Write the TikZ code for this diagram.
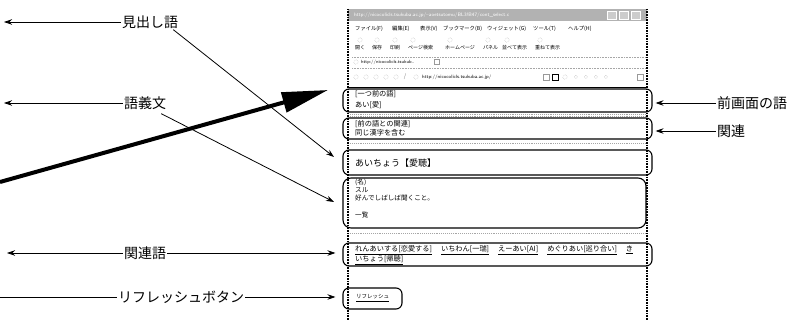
\documentclass[tikz,border=0pt]{standalone}
\usepackage{fontspec}
\setmainfont{Noto Sans CJK JP}
\usetikzlibrary{arrows.meta,calc}

\tikzset{
  lbl/.style={font=\fontsize{14}{16}\selectfont, inner sep=1pt},
  arr/.style={-{Stealth[length=8pt,width=5.5pt]}, line width=0.8pt},
  box/.style={draw, line width=1.1pt, rounded corners=6pt, inner sep=0pt},
  txt/.style={anchor=west, inner sep=0pt, font=\fontsize{7.2}{8}\selectfont},
  deftxt/.style={anchor=west, inner sep=0pt, font=\fontsize{6.6}{7}\selectfont},
  menu/.style={anchor=west, inner sep=0pt, font=\fontsize{5.3}{6}\selectfont},
  tool/.style={anchor=west, inner sep=0pt, font=\fontsize{5}{6}\selectfont},
  icon/.style={draw=gray!70, densely dotted, circle, minimum size=4.5pt, inner sep=0pt},
  sqicon/.style={draw=gray!80, minimum size=6pt, inner sep=0pt},
  frame/.style={line width=1.6pt, dash pattern=on 1pt off 0.6pt},
  sep/.style={gray!70, densely dotted, line width=0.9pt}
}

\begin{document}
\begin{tikzpicture}[x=1pt,y=-1pt]
\useasboundingbox (0,0) rectangle (790,320);

% ---------- browser window ----------
\fill[gray!60] (348,9) rectangle (647,21);
\node[anchor=west, inner sep=0pt, text=white, font=\fontsize{5}{6}\selectfont\sffamily] (title) at (354,15)
  {http://nicocolicls.tsukuba.ac.jp/\textasciitilde aoetsutomu/BL3!B47/cont\_select.c};
\foreach \bx/\bn in {612/wbA,624/wbB,636/wbC}
  \node[draw=white, fill=gray!40, minimum width=9pt, minimum height=8pt, inner sep=0pt] (\bn) at (\bx,15) {};
\draw[frame] (348,9) -- (348,320);
\draw[frame] (647,9) -- (647,320);

% menu bar
\node[menu] (m1) at (355,29) {ファイル(F)};
\node[menu] (m2) at (392,29) {編集(E)};
\node[menu] (m3) at (420,29) {表示(V)};
\node[menu] (m4) at (443,29) {ブックマーク(B)};
\node[menu] (m5) at (487,29) {ウィジェット(G)};
\node[menu] (m6) at (533,29) {ツール(T)};
\node[menu] (m7) at (568,29) {ヘルプ(H)};

% toolbar
\foreach \ix/\lab/\nm in {355/開く/tA, 372/保存/tB, 390/印刷/tC, 408/ページ検索/tD,
                          445/ホームページ/tE, 483/パネル/tF, 502/並べて表示/tG, 535/重ねて表示/tH}{
  \node[tool] (\nm) at (\ix,48) {\lab};
  \node[icon] (\nm i) at ($(\nm.west)+(5,-8)$) {};
}

% tab bar
\draw[sep, line width=0.6pt] (352,57) -- (645,57);
\draw[sep, line width=0.6pt] (352,68) -- (645,68);
\node[icon] (tabi) at (356,62) {};
\node[tool, font=\fontsize{4.6}{5}\selectfont\sffamily] (tab) at (361,62) {http://nicocolicls.tsukub..};
\node[sqicon, minimum size=5pt] (tabx) at (437,62) {};

% address bar
\foreach \ax/\an in {356/aA,366/aB,376/aC,386/aD,396/aE}
  \node[icon] (\an) at (\ax,77) {};
\node[inner sep=0pt, font=\fontsize{6}{6}\selectfont, text=gray] (aF) at (405,77) {/};
\node[icon] (aG) at (416,77) {};
\node[tool, font=\fontsize{4.8}{5}\selectfont\sffamily] (url) at (422,77) {http://nicocolicls.tsukuba.ac.jp/};
\node[sqicon] (aH) at (546,77) {};
\node[sqicon, draw=black] (aI) at (555,77) {};
\node[icon] (aJ) at (565,77) {};
\foreach \ax/\an in {576/aK,586/aL,596/aM,606/aN}
  \node[icon, minimum size=3.5pt] (\an) at (\ax,77) {};
\node[sqicon] (aO) at (640,77) {};
\draw[line width=0.9pt] (348,87) -- (647,87);

% ---------- page content ----------
\draw[sep] (350,114.5) -- (645,114.5);
\draw[sep] (350,116.5) -- (645,116.5);
\draw[sep] (350,143) -- (645,143);
\draw[sep] (350,233) -- (645,233);

\node[box, minimum width=309pt, minimum height=23pt] (b1) at (497.5,100.5) {};
\node[box, minimum width=309pt, minimum height=21pt] (b2) at (497.5,128.5) {};
\node[box, minimum width=309pt, minimum height=25pt] (b3) at (497.5,162.5) {};
\node[box, rounded corners=8pt, minimum width=303pt, minimum height=50pt] (b4) at (494.5,203) {};
\node[box, minimum width=309pt, minimum height=23pt] (b5) at (497.5,254.5) {};
\node[box, minimum width=59pt, minimum height=21pt] (b6) at (372.5,298.5) {};

\node[txt] (c1a) at (355,94) {[一つ前の語]};
\node[txt] (c1b) at (355,105) {あい[愛]};
\node[txt] (c2a) at (355,124) {[前の語との関連]};
\node[txt] (c2b) at (355,132.5) {同じ漢字を含む};
\node[txt, font=\fontsize{9}{10}\selectfont] (c3) at (355,163) {あいちょう【愛聴】};
\node[deftxt] (c4a) at (355,182) {(名)};
\node[deftxt] (c4b) at (355,190) {スル};
\node[deftxt] (c4c) at (355,198) {好んでしばしば聞くこと。};
\node[deftxt] (c4d) at (355,215) {一覧};
\node[txt] (c5a) at (355,250)
  {\underline{れんあいする[恋愛する]}\hspace{9pt}\underline{いちわん[一瑞]}\hspace{9pt}\underline{えーあい[AI]}\hspace{9pt}\underline{めぐりあい[巡り合い]}\hspace{9pt}\underline{き}};
\node[txt] (c5b) at (355,260) {\underline{いちょう[帰聴]}};
\node[txt, font=\fontsize{5.5}{6}\selectfont] (c6) at (356,298) {\underline{リフレッシュ}};

% ---------- callout labels ----------
\node[lbl] (midashi) at (150,22) {見出し語};
\node[lbl] (gogi) at (145,103) {語義文};
\node[lbl] (kanrengo) at (145,253) {関連語};
\node[lbl] (refresh) at (181,297) {リフレッシュボタン};
\node[lbl, anchor=west] (zengamen) at (716,103) {前画面の語};
\node[lbl, anchor=west] (kanren) at (716,131) {関連};

\coordinate (midL) at (4,22);
\coordinate (gogiL) at (4,103);
\coordinate (krgL) at (7,253);
\coordinate (refL) at (0,297);
\coordinate (tipHead) at (334,157);
\coordinate (tipDef) at (334,202);

\draw[arr] (midashi) -- (midL);
\draw[arr] (gogi) -- (gogiL);
\draw[arr] (kanrengo) -- (krgL);
\draw[arr] (kanrengo) -- ($(b5.west)+(-7,-1.5)$);
\draw[line width=0.8pt] (refL) -- (refresh);
\draw[arr] (refresh) -- ($(b6.west)+(-7,-1.5)$);
\draw[arr] ($(midashi.south east)+(-6,0)$) -- (tipHead);
\draw[arr] ($(gogi.south east)+(-6,3)$) -- (tipDef);
\draw[arr] (zengamen) -- ($(b1.east)+(3,2.5)$);
\draw[arr] (kanren) -- ($(b2.east)+(3,2.5)$);

% big pointer
\coordinate (thkS) at (0,182);
\coordinate (thkE) at (328,90);
\draw[line width=4pt, -{Triangle[length=46pt,width=20pt]}] (thkS) -- (thkE);
\end{tikzpicture}
\end{document}
